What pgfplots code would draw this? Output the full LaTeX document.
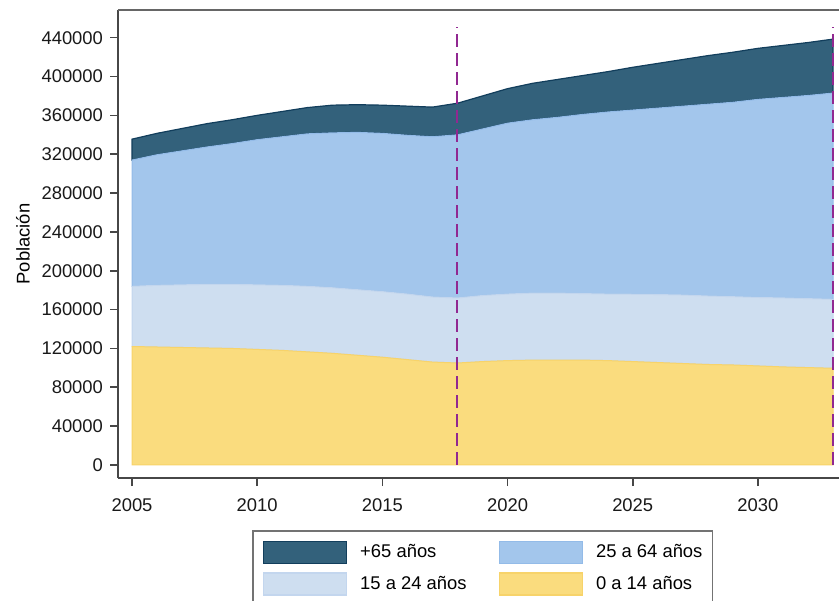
\documentclass[border=0pt]{standalone}
\usepackage{fontspec}
\setmainfont{Liberation Sans}
\usepackage{pgfplots}
\usepackage{pgfplotstable}
\pgfplotsset{compat=1.18}
\usetikzlibrary{calc}

\definecolor{viejos}{HTML}{33617B}
\definecolor{viejosline}{HTML}{123E5C}
\definecolor{adultos}{HTML}{A3C6EC}
\definecolor{adultosline}{HTML}{93BBE8}
\definecolor{jovenes}{HTML}{CEDEF0}
\definecolor{jovenesline}{HTML}{C3D6EE}
\definecolor{ninos}{HTML}{FADC7E}
\definecolor{ninosline}{HTML}{F7D36A}
\definecolor{corte}{HTML}{912891}

% poblacion por grupo de edad (cada columna es la capa, no el acumulado)
\pgfplotstableread{
year a b c d
2005 122000 62000 130000 21500
2006 121500 63500 134500 22000
2007 121000 64500 138000 23000
2008 120500 65500 141500 24000
2009 120000 66000 145000 24500
2010 119000 66500 149500 25000
2011 118000 67000 153000 26000
2012 116500 67500 157000 27000
2013 115000 67500 159500 28500
2014 113000 67500 162000 28500
2015 111000 67500 163000 29000
2016 108500 67500 163500 30000
2017 106000 67000 165000 30500
2018 105000 67000 168000 32500
2019 106500 68000 171500 34000
2020 107500 68500 176000 35500
2021 108000 69000 178500 37500
2022 108000 69000 181000 39000
2023 108000 68500 184500 40000
2024 107500 68500 187500 41500
2025 106500 69300 189700 44000
2026 105500 70000 192000 46000
2027 104500 70500 194500 48000
2028 103500 70500 197500 50000
2029 103000 70300 200200 51500
2030 102000 70500 204000 52500
2031 101000 71000 206500 53500
2032 100300 71000 209200 54500
2033 99600 71000 212400 55500
}\pop

% lineas de corte (2018 y fin de la proyeccion)
\pgfplotstableread{
year lo hi
2018 0 451000
2033 0 451000
}\cortes

\begin{document}
\begin{tikzpicture}
\pgfplotsset{
    marco/.style={
        scale only axis,
        width=360.5pt, height=234pt,
        xmin=2004.44, xmax=2033.24,
        ymin=-13400, ymax=468500,
    },
}
\begin{axis}[
    name=ax,
    marco,
    xtick={2005,2010,2015,2020,2025,2030},
    ytick={0,40000,80000,120000,160000,200000,240000,280000,320000,360000,400000,440000},
    scaled ticks=false,
    /pgf/number format/fixed,
    /pgf/number format/precision=0,
    /pgf/number format/1000 sep={},
    /pgf/number format/assume math mode=true,
    axis x line*=bottom, axis y line*=left,
    axis line style={-, line width=1pt, draw=black!72},
    tick align=outside, major tick length=4pt,
    tick style={line width=0.8pt, draw=black!72},
    tick label style={font=\fontsize{9.2}{11}\selectfont, black!90},
    xticklabel style={yshift=-3pt},
    ylabel={Población},
    ylabel style={at={(axis description cs:-0.1318,0.5)}, anchor=center, font=\fontsize{9.2}{11}\selectfont},
    stack plots=y,
    legend columns=2,
    reverse legend,
    legend cell align=left,
    legend image code/.code={\draw[#1, line width=0.7pt] (0pt,-5.5pt) rectangle (41.5pt,5.5pt);},
    legend style={at={(axis description cs:0.1859,-0.1111)}, anchor=north west,
        draw=black!55, line width=0.8pt, inner xsep=5pt, inner ysep=5pt, row sep=4pt,
        nodes={inner sep=0pt, font=\fontsize{9.2}{11}\selectfont},
        /tikz/every odd column/.append style={column sep=6.5pt},
        /tikz/every even column/.append style={column sep=16pt}},
]
\addplot[fill=ninos, draw=ninosline, line width=0.5pt] table[x=year, y=a] {\pop} \closedcycle;
\addlegendentry{0 a 14 años}
\addplot[fill=jovenes, draw=jovenesline, line width=0.5pt] table[x=year, y=b] {\pop} \closedcycle;
\addlegendentry{15 a 24 años}
\addplot[fill=adultos, draw=adultosline, line width=0.5pt] table[x=year, y=c] {\pop} \closedcycle;
\addlegendentry{25 a 64 años}
\addplot[fill=viejos, draw=viejosline, line width=0.6pt] table[x=year, y=d] {\pop} \closedcycle;
\addlegendentry{+65 años}

\draw[black!60, line width=0.8pt] (rel axis cs:0,1) -- (rel axis cs:1,1);
\end{axis}

% segunda capa, sin apilar, para las lineas verticales
\begin{axis}[marco, hide axis]
\addplot[corte, line width=1pt, dash pattern=on 6.5pt off 3pt, const plot mark right, ycomb]
    table[x=year, y=hi] {\cortes};
\end{axis}

\pgfresetboundingbox
\path[use as bounding box] ($(ax.south west)+(-59pt,-61pt)$) rectangle ($(ax.north east)+(0pt,5pt)$);
\end{tikzpicture}
\end{document}
